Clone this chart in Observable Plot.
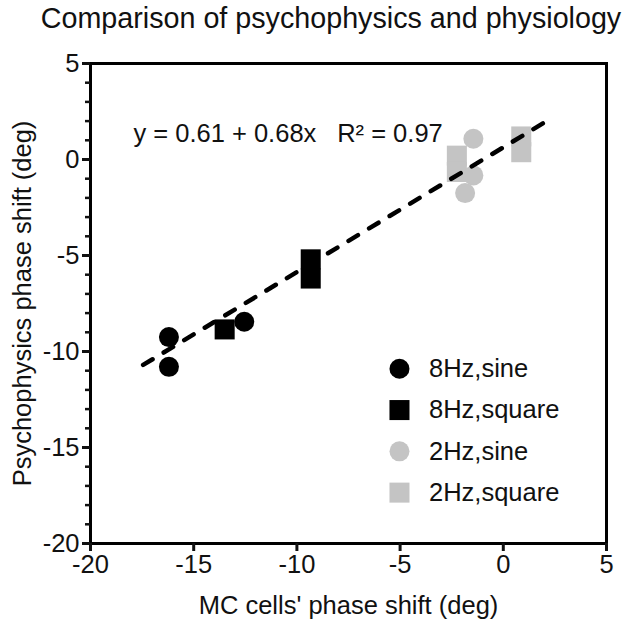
<!DOCTYPE html>
<html>
<head>
<meta charset="utf-8">
<script src="https://cdn.jsdelivr.net/npm/d3@7"></script>
<script src="https://cdn.jsdelivr.net/npm/@observablehq/plot@0.6"></script>
<style>
  html, body { margin: 0; padding: 0; background: #fff; }
  #title { width: 630px; height: 40px; line-height: 36px; box-sizing: border-box; padding-left: 32px;
           text-align: center; font-family: "Liberation Sans", Arial, sans-serif; font-size: 28.7px; color: #111; white-space: nowrap; }
</style>
</head>
<body>
<div id="title">Comparison of psychophysics and physiology</div>
<div id="chart"></div>
<script>
// ---- data ----
const sine8X = [-16.2, -16.2, -12.55];
const sine8Y = [-9.25, -10.8, -8.45];
const square8X = [-13.5, -9.33, -9.33];
const square8Y = [-8.85, -5.2, -6.2];
const sine2X = [-1.45, -1.45, -1.85];
const sine2Y = [1.08, -0.83, -1.75];
const square2X = [-2.25, -2.25, 0.87, 0.87];
const square2Y = [0.2, -0.65, 1.2, 0.38];
const fitX = [-17.45, 1.95];
const fitY = [-10.7, 1.9];
const xTicks = [-20, -15, -10, -5, 0, 5];
const yTicks = [-20, -15, -10, -5, 0, 5];
const yMinorTicks = [-19,-18,-17,-16,-14,-13,-12,-11,-9,-8,-7,-6,-4,-3,-2,-1,1,2,3,4];
const legendLabels = ["8Hz,sine", "8Hz,square", "2Hz,sine", "2Hz,square"];
const legendSymbols = ["circle", "square", "circle", "square"];
const legendColors = ["#000000", "#000000", "#c4c4c4", "#c4c4c4"];
const equationText = "y = 0.61 + 0.68x";
const r2Text = "R\u00B2 = 0.97";
const xLabel = "MC cells' phase shift (deg)";
const yLabel = "Psychophysics phase shift (deg)";

const BLACK = "#000000", GREY = "#c4c4c4";
const pts = (xs, ys) => xs.map((x, i) => ({x, y: ys[i]}));
const sine8 = pts(sine8X, sine8Y), square8 = pts(square8X, square8Y);
const sine2 = pts(sine2X, sine2Y), square2 = pts(square2X, square2Y);
const fit = pts(fitX, fitY);
const legend = legendLabels.map((label, i) => ({label, row: i, symbol: legendSymbols[i], color: legendColors[i]}));
const legendX = -5.03, legendTextX = -3.6, legendY0 = -10.9, legendStep = 2.15;
const FONT = 25.5;

const chart = Plot.plot({
  width: 630, height: 583,
  marginTop: 23, marginLeft: 90, marginRight: 24, marginBottom: 80,
  style: {fontFamily: "Liberation Sans, Arial, sans-serif", fontSize: FONT + "px", color: "#111", background: "#fff", overflow: "visible"},
  x: {domain: [-20, 5]},
  y: {domain: [-20, 5]},
  marks: [
    Plot.frame({stroke: "#000", strokeWidth: 3}),
    Plot.axisX(xTicks, {tickSize: 8, strokeWidth: 3, tickPadding: 3, fontSize: FONT, tickFormat: d => String(d), label: null}),
    Plot.axisY(yTicks, {tickSize: 8, strokeWidth: 3, tickPadding: 3, fontSize: FONT, tickFormat: d => String(d), label: null}),
    Plot.axisY(yMinorTicks, {tickSize: 5, strokeWidth: 2.5, text: null, label: null}),
    Plot.dot(square2, {x: "x", y: "y", symbol: "square", r: 11.3, fill: GREY}),
    Plot.dot(sine2, {x: "x", y: "y", symbol: "circle", r: 10, fill: GREY}),
    Plot.dot(square8, {x: "x", y: "y", symbol: "square", r: 11.3, fill: BLACK}),
    Plot.dot(sine8, {x: "x", y: "y", symbol: "circle", r: 10, fill: BLACK}),
    Plot.line(fit, {x: "x", y: "y", stroke: BLACK, strokeWidth: 4.5, strokeDasharray: "11,13", strokeLinecap: "round"}),
    Plot.text([equationText], {x: -17.92, y: 1.35, textAnchor: "start", fontSize: FONT, fill: "#111"}),
    Plot.text([r2Text], {x: -8.05, y: 1.35, textAnchor: "start", fontSize: FONT, fill: "#111"}),
    Plot.dot(legend.filter(d => d.symbol === "circle"), {x: () => legendX, y: d => legendY0 - legendStep * d.row, symbol: "circle", r: 10, fill: d => d.color}),
    Plot.dot(legend.filter(d => d.symbol === "square"), {x: () => legendX, y: d => legendY0 - legendStep * d.row, symbol: "square", r: 11.3, fill: d => d.color}),
    Plot.text(legend, {x: () => legendTextX, y: d => legendY0 - legendStep * d.row, text: "label", textAnchor: "start", fontSize: FONT, fill: "#111"}),
    Plot.text([xLabel], {frameAnchor: "bottom", textAnchor: "middle", lineAnchor: "middle", dy: 62, fontSize: FONT, fill: "#111"}),
    Plot.text([yLabel], {frameAnchor: "left", textAnchor: "middle", lineAnchor: "middle", dx: -68, rotate: -90, fontSize: FONT, fill: "#111"})
  ]
});
document.getElementById("chart").appendChild(chart);
</script>
</body>
</html>
